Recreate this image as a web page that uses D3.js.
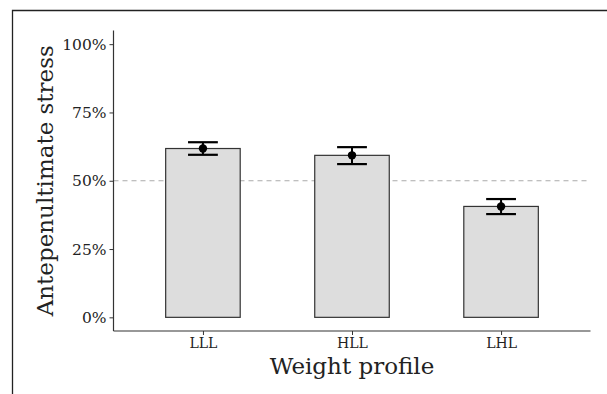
<!DOCTYPE html>
<html>
<head>
<meta charset="utf-8">
<script src="https://cdn.jsdelivr.net/npm/d3@7"></script>
<style>
  body { margin: 0; background: #fff; }
  svg { display: block; }
  text { font-family: "DejaVu Serif", serif; fill: #222; }
</style>
</head>
<body>
<script>
// values
const profiles = ["LLL", "HLL", "LHL"];
const means = [0.618, 0.593, 0.406];
const lower = [0.595, 0.561, 0.378];
const upper = [0.641, 0.623, 0.433];
const yTicks = [0, 0.25, 0.5, 0.75, 1];

const W = 607, H = 394;
const svg = d3.select("body").append("svg")
  .attr("width", W)
  .attr("height", H);

// outer frame (cut off at right / bottom like the reference)
svg.append("path")
  .attr("d", "M12.5," + H + "V10.5H" + W)
  .attr("fill", "none")
  .attr("stroke", "#222")
  .attr("stroke-width", 1.3);

const pLeft = 113.5, pRight = 590.5, pTop = 30.5, pBottom = 331;

// ggplot discrete expansion: 0.6 units each side
const x = d3.scalePoint()
  .domain(profiles)
  .range([pLeft, pRight])
  .padding(0.6);

const step = x.step();

const y = d3.scaleLinear()
  .domain([-0.05, 1.05])
  .range([pBottom, pTop]);

// dashed 50% reference line
svg.append("line")
  .attr("x1", pLeft)
  .attr("x2", pRight)
  .attr("y1", y(0.5))
  .attr("y2", y(0.5))
  .attr("stroke", "#aaa")
  .attr("stroke-width", 1)
  .attr("stroke-dasharray", "5,4");

// bars
svg.selectAll("rect.bar")
  .data(profiles).enter().append("rect")
    .attr("class", "bar")
    .attr("x", d => x(d) - step * 0.25)
    .attr("width", step * 0.5)
    .attr("y", (d, i) => y(means[i]))
    .attr("height", (d, i) => y(0) - y(means[i]))
    .attr("fill", "#dddddd")
    .attr("stroke", "#333")
    .attr("stroke-width", 1.2);

// error bars
const eb = svg.selectAll("g.err")
  .data(profiles).enter().append("g")
    .attr("class", "err");
eb.append("line")
  .attr("x1", d => x(d)).attr("x2", d => x(d))
  .attr("y1", (d, i) => y(upper[i])).attr("y2", (d, i) => y(lower[i]))
  .attr("stroke", "#000").attr("stroke-width", 2);
eb.append("line")
  .attr("x1", d => x(d) - step * 0.1).attr("x2", d => x(d) + step * 0.1)
  .attr("y1", (d, i) => y(upper[i])).attr("y2", (d, i) => y(upper[i]))
  .attr("stroke", "#000").attr("stroke-width", 2.2);
eb.append("line")
  .attr("x1", d => x(d) - step * 0.1).attr("x2", d => x(d) + step * 0.1)
  .attr("y1", (d, i) => y(lower[i])).attr("y2", (d, i) => y(lower[i]))
  .attr("stroke", "#000").attr("stroke-width", 2.2);
eb.append("circle")
  .attr("cx", d => x(d))
  .attr("cy", (d, i) => y(means[i]))
  .attr("r", 4.2)
  .attr("fill", "#000");

// axes
const yAxis = d3.axisLeft(y)
  .tickValues(yTicks)
  .tickFormat(d3.format(".0%"))
  .tickSize(4)
  .tickPadding(3);
const gy = svg.append("g")
  .attr("transform", "translate(" + pLeft + ",0)")
  .call(yAxis);
gy.select(".domain").attr("d", "M0," + pTop + "V" + pBottom);

const xAxis = d3.axisBottom(x)
  .tickSize(4)
  .tickPadding(3);
const gx = svg.append("g")
  .attr("transform", "translate(0," + pBottom + ")")
  .call(xAxis);
gx.select(".domain").attr("d", "M" + pLeft + ",0H" + pRight);

svg.selectAll(".domain").attr("stroke", "#333").attr("stroke-width", 1.2);
svg.selectAll(".tick line").attr("stroke", "#333");
gy.selectAll(".tick text").attr("font-size", 15.5).attr("fill", "#222")
  .attr("font-family", "DejaVu Serif");
gx.selectAll(".tick text").attr("font-size", 14).attr("fill", "#222")
  .attr("font-family", "DejaVu Serif");

// axis titles
svg.append("text")
  .attr("x", (pLeft + pRight) / 2)
  .attr("y", 374)
  .attr("text-anchor", "middle")
  .attr("font-size", 23)
  .text("Weight profile");

svg.append("text")
  .attr("transform", "translate(53," + (pTop + pBottom) / 2 + ") rotate(-90)")
  .attr("text-anchor", "middle")
  .attr("font-size", 23)
  .text("Antepenultimate stress");
</script>
</body>
</html>
